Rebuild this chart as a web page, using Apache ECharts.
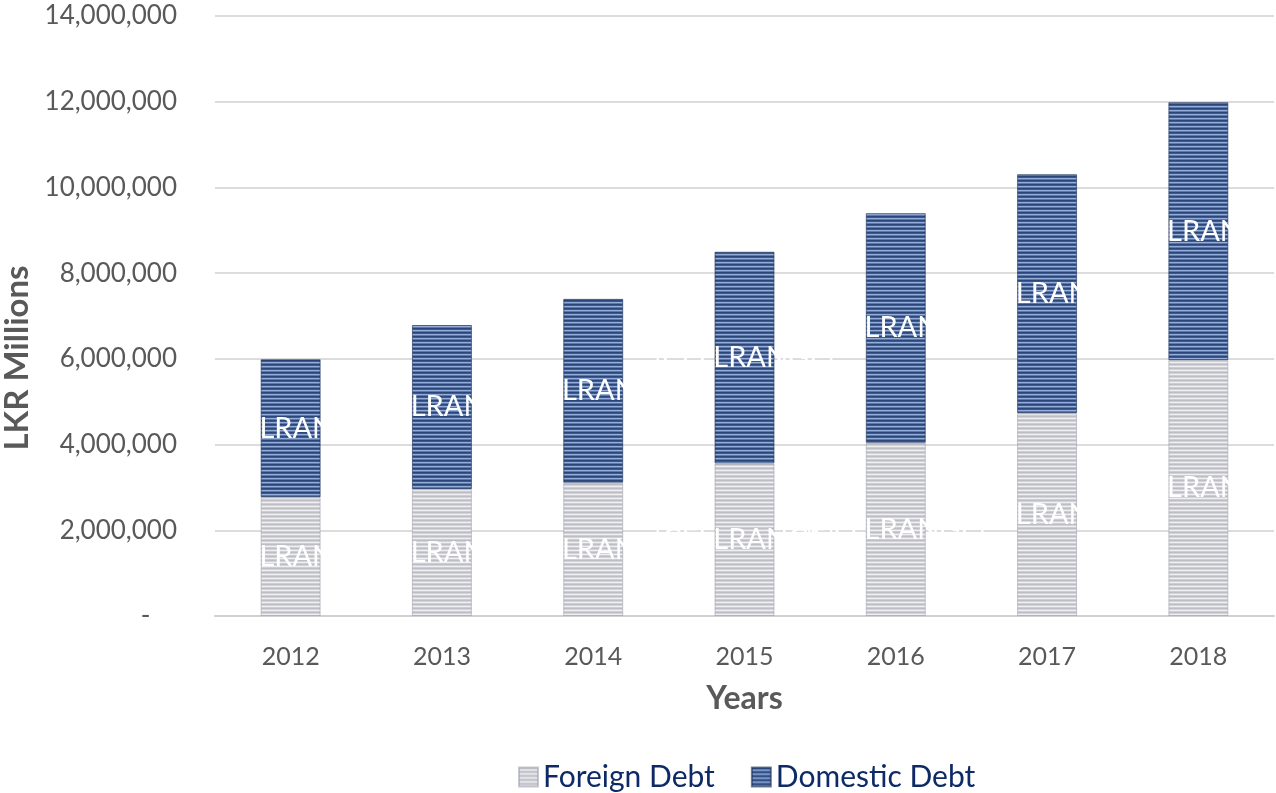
<!DOCTYPE html>
<html>
<head>
<meta charset="utf-8">
<script src="https://cdn.jsdelivr.net/npm/echarts@6/dist/echarts.min.js"></script>
<style>
html,body{margin:0;padding:0;background:#fff;}
#chart{width:1276px;height:793px;}
</style>
</head>
<body>
<div id="chart"></div>
<script>
var years = ['2012','2013','2014','2015','2016','2017','2018'];
var foreignDebt = [2770000, 2960000, 3110000, 3560000, 4040000, 4730000, 5970000];
var domesticDebt = [3220000, 3830000, 4290000, 4940000, 5360000, 5580000, 6020000];
var yTicks = [0, 2000000, 4000000, 6000000, 8000000, 10000000, 12000000, 14000000];
var labelText = '[CELLRANGE]';

function stripe(rows) {
  var c = document.createElement('canvas');
  c.width = 4; c.height = rows.length;
  var ctx = c.getContext('2d');
  rows.forEach(function (col, i) { ctx.fillStyle = col; ctx.fillRect(0, i, 4, 1); });
  return { image: c, repeat: 'repeat' };
}
var domPattern = stripe(['#2B4779', '#3A5990', '#94ADDA', '#5A79B0']);
var forPattern = stripe(['#BDBDC6', '#D3D3DA', '#F0F0F3', '#CDCDD4']);

var chart = echarts.init(document.getElementById('chart'), null, { renderer: 'canvas' });
var font = 'Lato, "DejaVu Sans", sans-serif';
var labelCfg = {
  show: true, position: 'inside', formatter: labelText,
  color: '#ffffff', fontSize: 29, fontFamily: font
};
chart.setOption({
  animation: false,
  textStyle: { fontFamily: font },
  grid: { left: 215, right: 2, top: 16, bottom: 177, outerBoundsMode: 'none', containLabel: false },
  legend: {
    top: 757, left: 513, itemWidth: 19, itemHeight: 19, itemGap: 36,
    icon: 'rect',
    textStyle: { color: '#0D2A66', fontSize: 30, fontFamily: font },
    data: ['Foreign Debt', 'Domestic Debt']
  },
  xAxis: {
    type: 'category', data: years,
    axisLine: { show: true, lineStyle: { color: '#D0D0D0', width: 2 } },
    axisTick: { show: false },
    axisLabel: { color: '#595959', fontSize: 25, margin: 28, fontFamily: font },
    name: 'Years', nameLocation: 'middle', nameGap: 67,
    nameTextStyle: { color: '#595959', fontSize: 32, fontWeight: 'bold', fontFamily: font }
  },
  yAxis: {
    type: 'value', min: yTicks[0], max: yTicks[yTicks.length - 1], interval: yTicks[1] - yTicks[0],
    axisLine: { show: false }, axisTick: { show: false },
    splitLine: { lineStyle: { color: '#DCDCDC', width: 2 } },
    axisLabel: {
      color: '#595959', fontSize: 26, margin: 38, fontFamily: font,
      formatter: function (v) { return v === 0 ? '-    ' : v.toLocaleString('en-US'); }
    },
    name: 'LKR Millions', nameLocation: 'middle', nameGap: 180,
    nameTextStyle: { color: '#595959', fontSize: 33, fontWeight: 'bold', fontFamily: font, padding: [0, 84, 0, 0] }
  },
  series: [
    {
      name: 'Foreign Debt', type: 'bar', stack: 'debt', data: foreignDebt, barWidth: 60,
      itemStyle: { color: forPattern, borderColor: 'rgba(150,150,165,0.5)', borderWidth: 1 },
      label: labelCfg
    },
    {
      name: 'Domestic Debt', type: 'bar', stack: 'debt', data: domesticDebt, barWidth: 60,
      itemStyle: { color: domPattern, borderColor: 'rgba(25,45,85,0.6)', borderWidth: 1 },
      label: labelCfg
    }
  ]
});
</script>
</body>
</html>
